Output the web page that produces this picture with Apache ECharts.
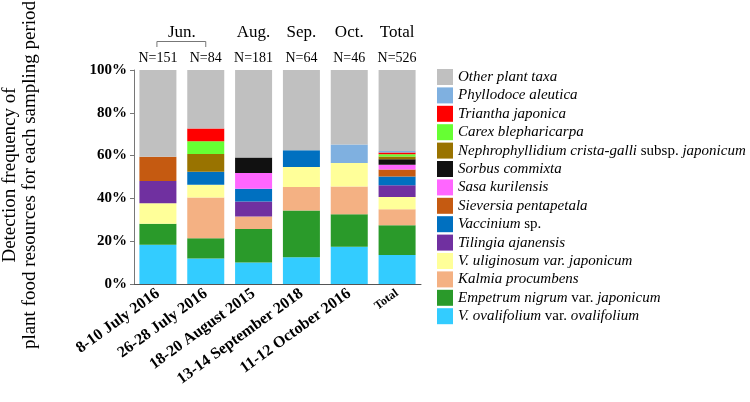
<!DOCTYPE html>
<html><head><meta charset="utf-8">
<script src="https://cdn.jsdelivr.net/npm/echarts@6/dist/echarts.min.js"></script>
<style>html,body{margin:0;padding:0;background:#fff}#c{width:750px;height:402px}</style>
</head><body><div id="c"></div>
<script>
const categories = ['8-10 July 2016','26-28 July 2016','18-20 August 2015','13-14 September 2018','11-12 October 2016','Total'];
const nLabels = ['N=151','N=84','N=181','N=64','N=46','N=526'];
const monthLabels = ['Aug.','Sep.','Oct.','Total'];
const yTicks = [0,20,40,60,80,100];

const vOvalifolium = [18.3, 11.9, 10.1, 12.5, 17.4, 13.5];
const empetrum     = [9.9, 9.5, 15.6, 21.9, 15.2, 13.9];
const kalmia       = [0, 19.0, 5.9, 10.9, 13.0, 7.5];
const vUliginosum  = [9.5, 6.0, 0, 9.4, 10.9, 5.7];
const tilingia     = [10.4, 0, 7.0, 0, 0, 5.6];
const vaccinium    = [0, 6.0, 5.9, 7.8, 0, 4.0];
const sieversia    = [11.4, 0, 0, 0, 0, 3.3];
const sasa         = [0, 0, 7.4, 0, 0, 2.2];
const sorbus       = [0, 0, 7.2, 0, 0, 2.6];
const nephro       = [0, 8.3, 0, 0, 0, 1.3];
const carex        = [0, 6.0, 0, 0, 0, 1.0];
const triantha     = [0, 6.0, 0, 0, 0, 0.8];
const phyllodoce   = [0, 0, 0, 0, 8.7, 0.8];
const other        = [40.5, 27.4, 40.9, 37.5, 34.8, 37.8];

const seriesDefs = [
  ['V. ovalifolium var. ovalifolium', vOvalifolium, '#33ccff', '{i|V. ovalifolium}{n| var. }{i|ovalifolium}'],
  ['Empetrum nigrum var. japonicum', empetrum, '#2a9a2a', '{i|Empetrum nigrum}{n| var. }{i|japonicum}'],
  ['Kalmia procumbens', kalmia, '#f4b183', '{i|Kalmia procumbens}'],
  ['V. uliginosum var. japonicum', vUliginosum, '#ffff99', '{i|V. uliginosum var. japonicum}'],
  ['Tilingia ajanensis', tilingia, '#7030a0', '{i|Tilingia ajanensis}'],
  ['Vaccinium sp.', vaccinium, '#0070c0', '{i|Vaccinium}{n| sp.}'],
  ['Sieversia pentapetala', sieversia, '#c55a11', '{i|Sieversia pentapetala}'],
  ['Sasa kurilensis', sasa, '#ff66ff', '{i|Sasa kurilensis}'],
  ['Sorbus commixta', sorbus, '#111111', '{i|Sorbus commixta}'],
  ['Nephrophyllidium crista-galli subsp. japonicum', nephro, '#997300', '{i|Nephrophyllidium crista-galli}{n| subsp. }{i|japonicum}'],
  ['Carex blepharicarpa', carex, '#66ff33', '{i|Carex blepharicarpa}'],
  ['Triantha japonica', triantha, '#ff0000', '{i|Triantha japonica}'],
  ['Phyllodoce aleutica', phyllodoce, '#7fb0e0', '{i|Phyllodoce aleutica}'],
  ['Other plant taxa', other, '#c0c0c0', '{i|Other plant taxa}']
];
const richMap = {};
seriesDefs.forEach(d => richMap[d[0]] = d[3]);

const FONT = 'Liberation Serif';
const chart = echarts.init(document.getElementById('c'), null, {renderer:'canvas'});
const option = {
  animation: false,
  grid: {left: 134, right: 329, top: 70, bottom: 118},
  legend: {
    orient: 'vertical', left: 432, top: 64,
    itemWidth: 16, itemHeight: 16, itemGap: 2.4,
    icon: 'rect',
    data: seriesDefs.map(d => d[0]).reverse(),
    formatter: n => richMap[n],
    textStyle: {
      fontFamily: FONT, fontSize: 15, color: '#000',
      rich: {
        i: {fontFamily: FONT, fontSize: 15, fontStyle: 'italic', color: '#000'},
        n: {fontFamily: FONT, fontSize: 15, fontStyle: 'normal', color: '#000'}
      }
    }
  },
  xAxis: {
    type: 'category', data: categories,
    axisLine: {lineStyle: {color: '#555', width: 1}},
    axisTick: {show: false},
    axisLabel: {
      rotate: 36, interval: 0, margin: 8,
      fontFamily: FONT, fontWeight: 'bold', fontSize: 16, color: '#000',
      formatter: v => v === 'Total' ? '{s|Total}' : v,
      rich: {s: {fontFamily: FONT, fontWeight: 'bold', fontSize: 12, color: '#000'}}
    }
  },
  yAxis: {
    type: 'value', min: 0, max: 100, interval: 20,
    axisLine: {show: true, lineStyle: {color: '#777'}},
    axisTick: {show: true, length: 4, lineStyle: {color: '#777'}},
    splitLine: {show: false},
    axisLabel: {fontFamily: FONT, fontWeight: 'bold', fontSize: 15, color: '#000', margin: 7,
      formatter: v => yTicks.includes(v) ? v + '%' : ''}
  },
  series: seriesDefs.map(d => ({
    name: d[0], type: 'bar', stack: 'all', data: d[1], barWidth: 37,
    itemStyle: {color: d[2]}
  }))
};
chart.setOption(option);

const xs = categories.map((c, i) => chart.convertToPixel({xAxisIndex: 0}, i));
const g = [];
nLabels.forEach((t, i) => g.push({type: 'text', x: xs[i], y: 58,
  style: {text: t, fontFamily: FONT, fontSize: 14, fill: '#000', textAlign: 'center', textVerticalAlign: 'middle'}}));
const junX = (xs[0] + xs[1]) / 2;
g.push({type: 'text', x: junX, y: 33, style: {text: 'Jun.', fontFamily: FONT, fontSize: 17, fill: '#000', textAlign: 'center', textVerticalAlign: 'middle'}});
monthLabels.forEach((t, i) => g.push({type: 'text', x: xs[i + 2], y: 33,
  style: {text: t, fontFamily: FONT, fontSize: 17, fill: '#000', textAlign: 'center', textVerticalAlign: 'middle'}}));
g.push({type: 'polyline', shape: {points: [[xs[0] - 1, 47], [xs[0] - 1, 41.5], [xs[1], 41.5], [xs[1], 47]]},
  style: {stroke: '#777', lineWidth: 1, fill: null}});
g.push({type: 'text', x: 10, y: 175, rotation: Math.PI / 2,
  style: {text: 'Detection frequency of', fontFamily: FONT, fontSize: 19, fill: '#000', textAlign: 'center', textVerticalAlign: 'middle'}});
g.push({type: 'text', x: 30, y: 175, rotation: Math.PI / 2,
  style: {text: 'plant food resources for each sampling period', fontFamily: FONT, fontSize: 19, fill: '#000', textAlign: 'center', textVerticalAlign: 'middle'}});
chart.setOption({graphic: g});
</script></body></html>
